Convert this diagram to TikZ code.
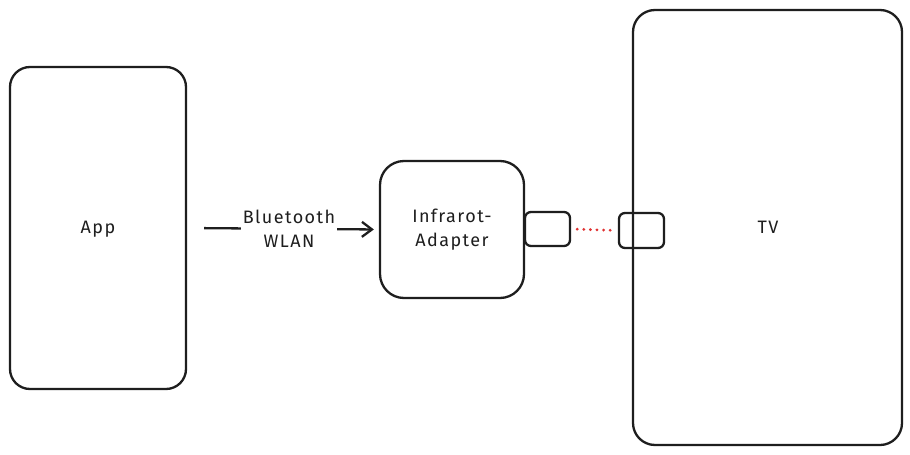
\documentclass[tikz,border=0pt]{standalone}
\usepackage{fontspec}
\setmainfont{Fira Sans}[LetterSpace=8]
\usetikzlibrary{arrows.meta}
\definecolor{ink}{HTML}{1E1E1E}
\definecolor{irred}{HTML}{E03131}
\tikzset{
  box/.style={draw=ink, line width=2.3pt, rounded corners=#1, inner sep=0pt, fill=white},
  lbl/.style={font=\fontsize{18}{24}\selectfont, text=ink, align=center},
}
\begin{document}
\begin{tikzpicture}[x=1pt,y=-1pt]
\useasboundingbox (0,0) rectangle (910,455);
\node[box=20pt, minimum width=176pt, minimum height=322pt] (app) at (98,228) {};
\node[lbl] (apptxt) at (98,229) {App};
\node[box=22pt, minimum width=269pt, minimum height=435pt] (tv) at (767.5,227.5) {};
\node[lbl] (tvtxt) at (768,227) {TV};
\node[box=24pt, minimum width=144pt, minimum height=137pt] (ad) at (452,229.5) {};
\node[lbl] (adtxt) at (452,230) {Infrarot-\\Adapter};
\node[box=6pt, minimum width=45pt, minimum height=34pt] (port) at (547.5,229) {};
\node[box=6pt, fill=none, minimum width=45pt, minimum height=35pt] (sens) at (641.5,230.5) {};
\draw[irred, line width=3pt, line cap=round, dash pattern=on 0.1pt off 6.5pt, shorten <=6pt, shorten >=3pt] (port.east) -- (sens.west);
\draw[ink, line width=2.3pt, -{Straight Barb[length=10pt,width=15pt,line width=2.3pt]}, shorten <=17pt, shorten >=5pt]
  (app.east) -- node[lbl, fill=white, inner sep=2pt, xshift=6pt] (conn) {Bluetooth\\WLAN} (ad.west);
\end{tikzpicture}
\end{document}
